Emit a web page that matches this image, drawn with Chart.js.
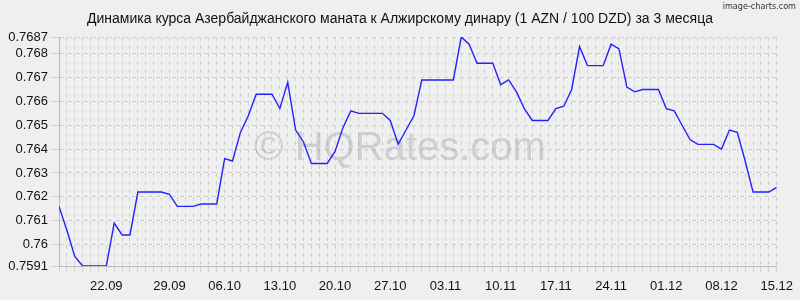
<!DOCTYPE html>
<html>
<head>
<meta charset="utf-8">
<script src="https://cdn.jsdelivr.net/npm/chart.js@4/dist/chart.umd.min.js"></script>
<style>
  html, body { margin: 0; padding: 0; background: #efefef; }
  #wrap { width: 800px; height: 300px; position: relative; }
</style>
</head>
<body>
<div id="wrap"><canvas id="c" width="800" height="300"></canvas></div>
<script>
// ---- data ----
const chartTitle = "Динамика курса Азербайджанского маната к Алжирскому динару (1 AZN / 100 DZD) за 3 месяца";
const watermark = "© HQRates.com";
const sourceNote = "image-charts.com";

// daily rates (92 points)
const rates = [
  0.7616, 0.7606, 0.7595, 0.7591, 0.7591, 0.7591, 0.7591, 0.7609, 0.7604, 0.7604,
  0.7622, 0.7622, 0.7622, 0.7622, 0.7621, 0.7616, 0.7616, 0.7616, 0.7617, 0.7617,
  0.7617, 0.7636, 0.7635, 0.7647, 0.7654, 0.7663, 0.7663, 0.7663, 0.7657, 0.7668,
  0.7648, 0.7643, 0.7634, 0.7634, 0.7634, 0.7639, 0.7649, 0.7656, 0.7655, 0.7655,
  0.7655, 0.7655, 0.7652, 0.7642, 0.7648, 0.7654, 0.7669, 0.7669, 0.7669, 0.7669,
  0.7669, 0.7687, 0.7684, 0.7676, 0.7676, 0.7676, 0.7667, 0.7669, 0.7664, 0.7657,
  0.7652, 0.7652, 0.7652, 0.7657, 0.7658, 0.7665, 0.7683, 0.7675, 0.7675, 0.7675,
  0.7684, 0.7682, 0.7666, 0.7664, 0.7665, 0.7665, 0.7665, 0.7657, 0.7656, 0.7650,
  0.7644, 0.7642, 0.7642, 0.7642, 0.7640, 0.7648, 0.7647, 0.7635, 0.7622, 0.7622,
  0.7622, 0.7624
];

// x-axis labels and the point index they sit on
const xTickLabels = ["22.09","29.09","06.10","13.10","20.10","27.10","03.11","10.11","17.11","24.11","01.12","08.12","15.12"];
const xTickIndex  = [6, 14, 21, 28, 35, 42, 49, 56, 63, 70, 77, 84, 91];

// y-axis tick values
const yTicks = [0.7591, 0.76, 0.761, 0.762, 0.763, 0.764, 0.765, 0.766, 0.767, 0.768, 0.7687];

// ---- chart ----
const FONT = "'Liberation Sans', Arial, sans-serif";
const points = rates.map((v, i) => ({ x: i, y: v }));
const labelAt = {};
xTickIndex.forEach((idx, k) => { labelAt[idx] = xTickLabels[k]; });

const textPlugin = {
  id: 'texts',
  beforeDatasetsDraw(chart) {
    const ctx = chart.ctx;
    ctx.save();
    ctx.font = "40px " + FONT;
    ctx.fillStyle = "rgba(150,150,150,0.36)";
    ctx.textAlign = "center";
    ctx.textBaseline = "alphabetic";
    ctx.fillText(watermark, 400, 160);
    ctx.restore();
  },
  afterDraw(chart) {
    const ctx = chart.ctx;
    ctx.save();
    ctx.fillStyle = "#111";
    ctx.font = "14px " + FONT;
    ctx.textAlign = "center";
    ctx.textBaseline = "alphabetic";
    ctx.fillText(chartTitle, 400, 23);
    ctx.font = "9px 'DejaVu Sans Condensed', 'Liberation Sans Narrow', sans-serif";
    ctx.fillStyle = "#333";
    ctx.textAlign = "right";
    ctx.fillText(sourceNote, 796, 9);
    ctx.restore();
  }
};

new Chart(document.getElementById('c'), {
  type: 'line',
  data: {
    datasets: [{
      data: points,
      borderColor: '#2222ff',
      borderWidth: 1.4,
      pointRadius: 0,
      tension: 0,
      fill: false
    }]
  },
  options: {
    responsive: false,
    animation: false,
    devicePixelRatio: 1,
    layout: { padding: { left: 0, right: 21, top: 37, bottom: 0 } },
    plugins: { legend: { display: false }, tooltip: { enabled: false }, title: { display: false } },
    scales: {
      x: {
        type: 'linear',
        min: 0,
        max: rates.length - 1,
        afterBuildTicks(scale) {
          scale.ticks = rates.map((_, i) => ({ value: i }));
        },
        afterFit(scale) { scale.height = 34; },
        ticks: {
          autoSkip: false,
          maxRotation: 0,
          minRotation: 0,
          padding: 7,
          color: '#111',
          font: { family: FONT, size: 13 },
          callback: (v) => labelAt[v] || ''
        },
        grid: {
          color: '#d0d0d0',
          lineWidth: 1,
          tickLength: 6,
          drawTicks: true
        },
        border: { display: true, color: '#b8b8b8', dash: [4, 4] }
      },
      y: {
        type: 'linear',
        min: yTicks[0],
        max: yTicks[yTicks.length - 1],
        afterBuildTicks(scale) {
          scale.ticks = yTicks.map(v => ({ value: v }));
        },
        afterFit(scale) { scale.width = 59; },
        ticks: {
          autoSkip: false,
          padding: 3,
          color: '#111',
          font: { family: FONT, size: 13 },
          callback: (v) => String(v)
        },
        grid: {
          color: '#d0d0d0',
          lineWidth: 1,
          tickLength: 8
        },
        border: { display: true, color: '#b8b8b8', dash: [4, 4] }
      }
    }
  },
  plugins: [textPlugin]
});
</script>
</body>
</html>
